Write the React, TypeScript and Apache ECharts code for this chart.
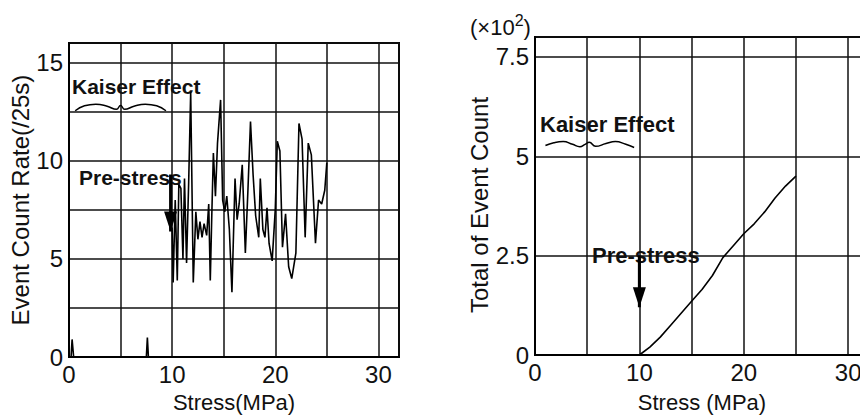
import React, { useEffect, useRef } from "react";
import * as echarts from "echarts";

// ---- Left panel: event count rate vs stress ----
const rateStress = [
  10.0, 10.1, 10.3, 10.5, 10.65, 10.85, 11.05, 11.2, 11.4, 11.6, 11.8, 12.05, 12.3, 12.5, 12.7, 12.9,
  13.1, 13.35, 13.55, 13.7, 13.85, 14.0, 14.2, 14.4, 14.7, 14.9, 15.1, 15.3, 15.55, 15.8, 16.1, 16.3,
  16.5, 16.8, 17.1, 17.35, 17.6, 17.85, 18.1, 18.4, 18.55, 18.8, 19.0, 19.2, 19.4, 19.7, 20.0, 20.2,
  20.45, 20.7, 21.0, 21.3, 21.6, 22.0, 22.3, 22.6, 22.9, 23.2, 23.5, 23.9, 24.2, 24.5, 24.8, 25.0,
];
const rateValues = [
  6.6, 3.8, 8.0, 3.9, 8.8, 8.6, 5.0, 9.1, 4.8, 8.8, 13.5, 3.8, 7.4, 6.0, 6.9, 6.1,
  6.8, 6.2, 7.8, 3.9, 7.3, 10.4, 8.2, 10.9, 13.1, 8.0, 7.4, 8.2, 6.5, 3.3, 9.1, 7.0,
  7.8, 9.8, 5.3, 8.5, 12.0, 9.3, 7.2, 6.1, 9.1, 6.5, 6.1, 7.6, 5.8, 4.9, 7.5, 11.0,
  10.5, 5.6, 7.3, 4.6, 4.0, 5.3, 11.9, 11.1, 6.1, 10.9, 10.3, 5.8, 8.0, 7.8, 8.5, 9.9,
];
const earlyStress = [0.2, 0.3, 0.45, null, 7.5, 7.6, 7.7];
const earlyValues = [0, 0.9, 0, null, 0, 1.0, 0];

const leftBraceX = [0.6, 1.5, 2.6, 3.7, 4.6, 5.0, 5.4, 6.3, 7.4, 8.5, 9.4];
const leftBraceY = [12.55, 12.8, 12.88, 12.78, 12.62, 12.82, 12.62, 12.78, 12.88, 12.8, 12.55];
const leftArrowX = [9.85, 9.85];
const leftArrowY = [9.3, 6.4];

// ---- Right panel: total event count (x10^2) vs stress ----
const totalStress = [10, 11, 12, 13, 14, 15, 16, 17, 18, 19, 20, 21, 22, 23, 24, 25];
const totalCount = [0, 0.2, 0.45, 0.75, 1.05, 1.35, 1.65, 2.0, 2.45, 2.75, 3.05, 3.3, 3.6, 3.95, 4.25, 4.5];

const rightBraceX = [1.0, 1.8, 2.7, 3.6, 4.3, 4.8, 5.2, 5.8, 6.8, 7.7, 8.7, 9.5];
const rightBraceY = [5.27, 5.34, 5.37, 5.3, 5.24, 5.3, 5.35, 5.25, 5.32, 5.37, 5.3, 5.22];
const rightArrowX = [10, 10];
const rightArrowY = [2.5, 1.2];

const leftTicksY = [0, 5, 10, 15];
const tickX = [0, 10, 20, 30];

const FONT = "'Liberation Sans', Arial, sans-serif";
const INK = "#111";

const zip = (xs: (number | null)[], ys: (number | null)[]) =>
  xs.map((x, i) => (x === null || ys[i] === null ? [null, null] : [x, ys[i]]));

function xAxis(gridIndex: number, name: string, nameGap: number) {
  return {
    type: "value",
    gridIndex,
    min: 0,
    max: 32,
    interval: 5,
    name,
    nameLocation: "middle",
    nameGap,
    nameTextStyle: { fontSize: 22, fontFamily: FONT, color: INK },
    axisLine: { show: true, lineStyle: { color: "#000", width: 2 } },
    axisTick: { show: false },
    axisLabel: {
      fontSize: 24,
      margin: 5,
      color: INK,
      fontFamily: FONT,
      formatter: (v: number) => (tickX.includes(v) ? String(v) : ""),
    },
    splitLine: { show: true, lineStyle: { color: INK, width: 1.5 } },
  };
}

function arrowData(xs: number[], ys: number[]) {
  return [
    { value: [xs[0], ys[0]], symbol: "none" },
    { value: [xs[1], ys[1]], symbol: "triangle", symbolSize: [13, 20], symbolRotate: 180, symbolOffset: [0, -10] },
  ];
}

export default function App() {
  const ref = useRef<HTMLDivElement>(null);
  useEffect(() => {
    if (!ref.current) return;
    const chart = echarts.init(ref.current, undefined, { renderer: "svg" });
    const lineBase = { type: "line", symbol: "none", silent: true };
    chart.setOption({
      animation: false,
      backgroundColor: "#fff",
      textStyle: { fontFamily: FONT },
      grid: [
        { left: 69, top: 43, width: 330, height: 319, show: true, borderColor: "#000", borderWidth: 2 },
        { left: 535, top: 37, width: 334, height: 322, show: true, borderColor: "#000", borderWidth: 2 },
      ],
      xAxis: [xAxis(0, "Stress(MPa)", 31), xAxis(1, "Stress (MPa)", 36)],
      yAxis: [
        {
          type: "value",
          gridIndex: 0,
          min: 0,
          max: 16,
          interval: 2.5,
          name: "Event Count Rate(/25s)",
          nameLocation: "middle",
          nameGap: 36,
          nameTextStyle: { fontSize: 24, fontFamily: FONT, color: INK },
          axisLine: { show: true, lineStyle: { color: "#000", width: 2 } },
          axisTick: { show: false },
          axisLabel: {
            fontSize: 24,
            margin: 6,
            color: INK,
            fontFamily: FONT,
            formatter: (v: number) => (leftTicksY.includes(v) ? String(v) : ""),
          },
          splitLine: { show: true, lineStyle: { color: INK, width: 1.5 } },
        },
        {
          type: "value",
          gridIndex: 1,
          min: 0,
          max: 8,
          interval: 2.5,
          name: "Total of Event Count",
          nameLocation: "middle",
          nameGap: 40,
          nameTextStyle: { fontSize: 24, fontFamily: FONT, color: INK, padding: [0, 18, 0, 0] },
          axisLine: { show: true, lineStyle: { color: "#000", width: 2 } },
          axisTick: { show: false },
          axisLabel: {
            fontSize: 24,
            margin: 6,
            color: INK,
            fontFamily: FONT,
            formatter: (v: number) => (v === 8 ? "" : String(v)),
          },
          splitLine: { show: true, lineStyle: { color: INK, width: 1.5 } },
        },
      ],
      series: [
        { ...lineBase, xAxisIndex: 0, yAxisIndex: 0, data: zip(rateStress, rateValues), lineStyle: { color: "#000", width: 1.6 } },
        { ...lineBase, xAxisIndex: 0, yAxisIndex: 0, data: zip(earlyStress, earlyValues), connectNulls: false, lineStyle: { color: "#000", width: 1.6 } },
        { ...lineBase, xAxisIndex: 0, yAxisIndex: 0, smooth: 0.5, data: zip(leftBraceX, leftBraceY), lineStyle: { color: "#000", width: 1.5 } },
        { type: "line", silent: true, xAxisIndex: 0, yAxisIndex: 0, symbol: "none", data: arrowData(leftArrowX, leftArrowY), lineStyle: { color: "#000", width: 3 }, itemStyle: { color: "#000" } },
        { ...lineBase, xAxisIndex: 1, yAxisIndex: 1, data: zip(totalStress, totalCount), lineStyle: { color: "#000", width: 1.6 } },
        { ...lineBase, xAxisIndex: 1, yAxisIndex: 1, smooth: 0.5, data: zip(rightBraceX, rightBraceY), lineStyle: { color: "#000", width: 1.5 } },
        { type: "line", silent: true, xAxisIndex: 1, yAxisIndex: 1, symbol: "none", data: arrowData(rightArrowX, rightArrowY), lineStyle: { color: "#000", width: 3 }, itemStyle: { color: "#000" } },
      ],
      graphic: [
        { type: "text", left: 72, top: 76, style: { text: "Kaiser Effect", font: `bold 21px ${FONT}`, fill: INK } },
        { type: "text", left: 79, top: 167, style: { text: "Pre-stress", font: `bold 21px ${FONT}`, fill: INK } },
        { type: "text", left: 540, top: 113, style: { text: "Kaiser Effect", font: `bold 22px ${FONT}`, fill: INK } },
        { type: "text", left: 592, top: 244, style: { text: "Pre-stress", font: `bold 22px ${FONT}`, fill: INK } },
        {
          type: "text",
          left: 470,
          top: 12,
          style: {
            text: "{a|(×10}{b|2}{a|)}",
            fill: INK,
            rich: {
              a: { fontSize: 22, fontFamily: FONT, color: INK, verticalAlign: "bottom", lineHeight: 26 },
              b: { fontSize: 16, fontFamily: FONT, color: INK, verticalAlign: "top", lineHeight: 26 },
            },
          },
        },
      ],
    });
    return () => chart.dispose();
  }, []);
  return (
    <div style={{ position: "fixed", left: 0, top: 0, width: 860, height: 418, overflow: "hidden" }}>
      <div ref={ref} style={{ width: 880, height: 418 }} />
    </div>
  );
}
